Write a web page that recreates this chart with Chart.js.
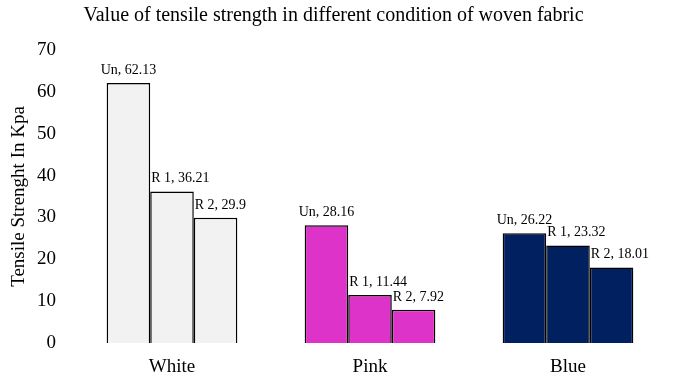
<!DOCTYPE html>
<html>
<head>
<meta charset="utf-8">
<script src="https://cdn.jsdelivr.net/npm/chart.js@4/dist/chart.umd.min.js"></script>
<style>
  html, body { margin: 0; padding: 0; background: #fff; }
  #wrap { width: 681px; height: 380px; }
</style>
</head>
<body>
<div id="wrap"><canvas id="c"></canvas></div>
<script>
const categories = ['White', 'Pink', 'Blue']
const seriesNames = ['Un', 'R 1', 'R 2']
const unValues = [62.13, 28.16, 26.22]
const r1Values = [36.21, 11.44, 23.32]
const r2Values = [29.9, 7.92, 18.01]
const yTicks = [0, 10, 20, 30, 40, 50, 60, 70]

const FONT = '"Liberation Serif", "Times New Roman", serif'
const categoryColors = ['#f2f2f2', '#dd33c8', '#002060']

const seriesValues = [unValues, r1Values, r2Values]

// data labels "Un, 62.13" above each bar
const barLabels = {
  id: 'barLabels',
  afterDatasetsDraw(chart) {
    const ctx = chart.ctx
    ctx.save()
    ctx.font = '14px ' + FONT
    ctx.fillStyle = '#000'
    ctx.textBaseline = 'bottom'
    chart.data.datasets.forEach((ds, di) => {
      chart.getDatasetMeta(di).data.forEach((bar, i) => {
        const text = ds.label + ', ' + ds.data[i]
        const half = bar.width / 2
        if (di === 0) {
          ctx.textAlign = 'center'
          ctx.fillText(text, bar.x, bar.y - 6)
        } else {
          ctx.textAlign = 'left'
          ctx.fillText(text, bar.x - half + 1, bar.y - 6)
        }
      })
    })
    ctx.restore()
  }
}

new Chart(document.getElementById('c'), {
  type: 'bar',
  data: {
    labels: categories,
    datasets: seriesNames.map((name, si) => ({
      label: name,
      data: seriesValues[si],
      backgroundColor: categoryColors,
      borderColor: '#000',
      borderWidth: 1.5,
      borderSkipped: 'bottom',
      categoryPercentage: 0.66,
      barPercentage: 1,
    })),
  },
  options: {
    responsive: true,
    maintainAspectRatio: false,
    animation: false,
    layout: { padding: { left: 0, right: 14, top: 0, bottom: 0 } },
    plugins: {
      legend: { display: false },
      tooltip: { enabled: false },
      title: {
        display: true,
        text: 'Value of tensile strength in different condition of woven fabric',
        color: '#000',
        font: { family: FONT, size: 20, weight: 'normal' },
        padding: { top: 4, bottom: 22 },
      },
    },
    scales: {
      x: {
        afterFit(scale) { scale.height = 37 },
        grid: { display: false },
        border: { display: false },
        ticks: { color: '#000', font: { family: FONT, size: 19 }, padding: 5 },
      },
      y: {
        min: 0,
        max: 70,
        afterBuildTicks(scale) { scale.ticks = yTicks.map(v => ({ value: v })) },
        afterFit(scale) { scale.width = 73 },
        grid: { display: false },
        border: { display: false },
        ticks: { color: '#000', font: { family: FONT, size: 19 }, padding: 9 },
        title: {
          display: true,
          text: 'Tensile Strenght In Kpa',
          color: '#000',
          font: { family: FONT, size: 19 },
          padding: { top: 8, bottom: 6 },
        },
      },
    },
  },
  plugins: [barLabels],
})
</script>
</body>
</html>
